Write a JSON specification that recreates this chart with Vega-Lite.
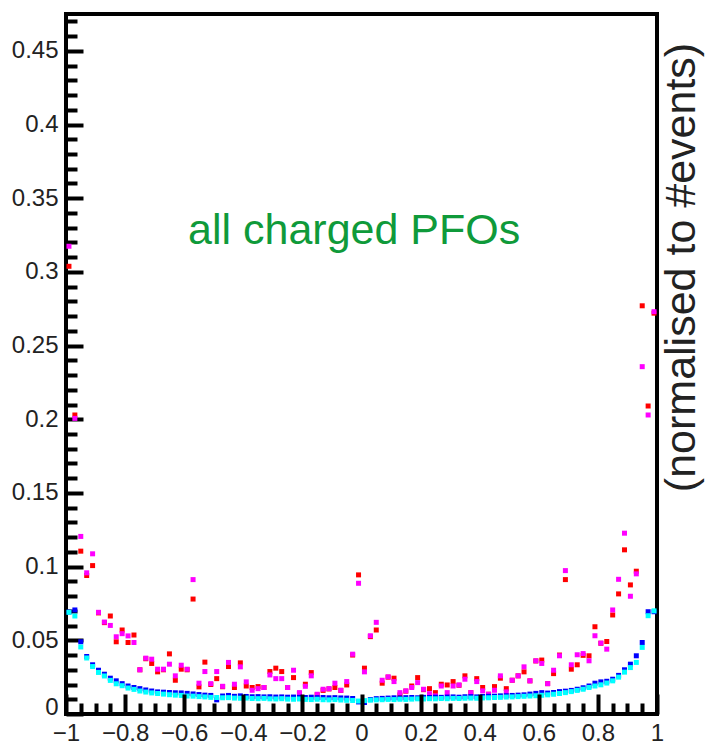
{
  "$schema": "https://vega.github.io/schema/vega-lite/v6.json",
  "autosize": "none",
  "width": 591,
  "height": 700,
  "padding": {"left": 66, "top": 14, "right": 48, "bottom": 27},
  "background": "white",
  "config": {
    "font": "Liberation Sans",
    "view": {"stroke": "#000", "strokeWidth": 4}
  },
  "datasets": {
    "pts": [
{"x":-0.99,"y":0.3038,"s":"r"},{"x":-0.97,"y":0.2029,"s":"r"},{"x":-0.95,"y":0.1105,"s":"r"},{"x":-0.93,"y":0.094,"s":"r"},{"x":-0.91,"y":0.1007,"s":"r"},{"x":-0.89,"y":0.0686,"s":"r"},{"x":-0.87,"y":0.062,"s":"r"},{"x":-0.85,"y":0.0665,"s":"r"},{"x":-0.83,"y":0.049,"s":"r"},{"x":-0.81,"y":0.057,"s":"r"},
{"x":-0.79,"y":0.0485,"s":"r"},{"x":-0.77,"y":0.0536,"s":"r"},{"x":-0.75,"y":0.030,"s":"r"},{"x":-0.73,"y":0.0375,"s":"r"},{"x":-0.71,"y":0.0343,"s":"r"},{"x":-0.69,"y":0.0286,"s":"r"},{"x":-0.67,"y":0.030,"s":"r"},{"x":-0.65,"y":0.0408,"s":"r"},{"x":-0.63,"y":0.0229,"s":"r"},{"x":-0.61,"y":0.0304,"s":"r"},
{"x":-0.59,"y":0.030,"s":"r"},{"x":-0.57,"y":0.078,"s":"r"},{"x":-0.55,"y":0.0184,"s":"r"},{"x":-0.53,"y":0.0352,"s":"r"},{"x":-0.51,"y":0.020,"s":"r"},{"x":-0.49,"y":0.024,"s":"r"},{"x":-0.47,"y":0.0185,"s":"r"},{"x":-0.45,"y":0.0322,"s":"r"},{"x":-0.43,"y":0.018,"s":"r"},{"x":-0.41,"y":0.0347,"s":"r"},
{"x":-0.39,"y":0.019,"s":"r"},{"x":-0.37,"y":0.018,"s":"r"},{"x":-0.35,"y":0.0186,"s":"r"},{"x":-0.33,"y":0.018,"s":"r"},{"x":-0.31,"y":0.0288,"s":"r"},{"x":-0.29,"y":0.0311,"s":"r"},{"x":-0.27,"y":0.0288,"s":"r"},{"x":-0.25,"y":0.018,"s":"r"},{"x":-0.23,"y":0.0247,"s":"r"},{"x":-0.21,"y":0.014,"s":"r"},
{"x":-0.19,"y":0.0202,"s":"r"},{"x":-0.17,"y":0.0281,"s":"r"},{"x":-0.15,"y":0.013,"s":"r"},{"x":-0.13,"y":0.016,"s":"r"},{"x":-0.11,"y":0.017,"s":"r"},{"x":-0.09,"y":0.018,"s":"r"},{"x":-0.07,"y":0.016,"s":"r"},{"x":-0.05,"y":0.0197,"s":"r"},{"x":-0.03,"y":0.040,"s":"r"},{"x":-0.01,"y":0.0944,"s":"r"},
{"x":0.01,"y":0.0311,"s":"r"},{"x":0.03,"y":0.0525,"s":"r"},{"x":0.05,"y":0.057,"s":"r"},{"x":0.07,"y":0.0209,"s":"r"},{"x":0.09,"y":0.025,"s":"r"},{"x":0.11,"y":0.0243,"s":"r"},{"x":0.13,"y":0.0129,"s":"r"},{"x":0.15,"y":0.0155,"s":"r"},{"x":0.17,"y":0.019,"s":"r"},{"x":0.19,"y":0.0247,"s":"r"},
{"x":0.21,"y":0.0165,"s":"r"},{"x":0.23,"y":0.0172,"s":"r"},{"x":0.25,"y":0.0145,"s":"r"},{"x":0.27,"y":0.0202,"s":"r"},{"x":0.29,"y":0.0197,"s":"r"},{"x":0.31,"y":0.022,"s":"r"},{"x":0.33,"y":0.0195,"s":"r"},{"x":0.35,"y":0.0259,"s":"r"},{"x":0.37,"y":0.0145,"s":"r"},{"x":0.39,"y":0.024,"s":"r"},
{"x":0.41,"y":0.018,"s":"r"},{"x":0.43,"y":0.0134,"s":"r"},{"x":0.45,"y":0.0186,"s":"r"},{"x":0.47,"y":0.0243,"s":"r"},{"x":0.49,"y":0.0172,"s":"r"},{"x":0.51,"y":0.0229,"s":"r"},{"x":0.53,"y":0.0259,"s":"r"},{"x":0.55,"y":0.0286,"s":"r"},{"x":0.57,"y":0.0225,"s":"r"},{"x":0.59,"y":0.036,"s":"r"},
{"x":0.61,"y":0.0366,"s":"r"},{"x":0.63,"y":0.0206,"s":"r"},{"x":0.65,"y":0.0274,"s":"r"},{"x":0.67,"y":0.040,"s":"r"},{"x":0.69,"y":0.0912,"s":"r"},{"x":0.71,"y":0.0304,"s":"r"},{"x":0.73,"y":0.0334,"s":"r"},{"x":0.75,"y":0.0398,"s":"r"},{"x":0.77,"y":0.0395,"s":"r"},{"x":0.79,"y":0.0592,"s":"r"},
{"x":0.81,"y":0.048,"s":"r"},{"x":0.83,"y":0.0492,"s":"r"},{"x":0.85,"y":0.0672,"s":"r"},{"x":0.87,"y":0.0815,"s":"r"},{"x":0.89,"y":0.1114,"s":"r"},{"x":0.91,"y":0.0876,"s":"r"},{"x":0.93,"y":0.0969,"s":"r"},{"x":0.95,"y":0.277,"s":"r"},{"x":0.97,"y":0.209,"s":"r"},{"x":0.99,"y":0.272,"s":"r"},
{"x":-0.99,"y":0.3174,"s":"m"},{"x":-0.97,"y":0.2006,"s":"m"},{"x":-0.95,"y":0.1205,"s":"m"},{"x":-0.93,"y":0.0958,"s":"m"},{"x":-0.91,"y":0.1087,"s":"m"},{"x":-0.89,"y":0.069,"s":"m"},{"x":-0.87,"y":0.0624,"s":"m"},{"x":-0.85,"y":0.0601,"s":"m"},{"x":-0.83,"y":0.0524,"s":"m"},{"x":-0.81,"y":0.0545,"s":"m"},
{"x":-0.79,"y":0.053,"s":"m"},{"x":-0.77,"y":0.0485,"s":"m"},{"x":-0.75,"y":0.030,"s":"m"},{"x":-0.73,"y":0.0379,"s":"m"},{"x":-0.71,"y":0.0372,"s":"m"},{"x":-0.69,"y":0.0304,"s":"m"},{"x":-0.67,"y":0.0304,"s":"m"},{"x":-0.65,"y":0.0338,"s":"m"},{"x":-0.63,"y":0.0259,"s":"m"},{"x":-0.61,"y":0.0331,"s":"m"},
{"x":-0.59,"y":0.0304,"s":"m"},{"x":-0.57,"y":0.0912,"s":"m"},{"x":-0.55,"y":0.0209,"s":"m"},{"x":-0.53,"y":0.0288,"s":"m"},{"x":-0.51,"y":0.0206,"s":"m"},{"x":-0.49,"y":0.0288,"s":"m"},{"x":-0.47,"y":0.0188,"s":"m"},{"x":-0.45,"y":0.035,"s":"m"},{"x":-0.43,"y":0.0202,"s":"m"},{"x":-0.41,"y":0.032,"s":"m"},
{"x":-0.39,"y":0.0218,"s":"m"},{"x":-0.37,"y":0.0161,"s":"m"},{"x":-0.35,"y":0.0172,"s":"m"},{"x":-0.33,"y":0.018,"s":"m"},{"x":-0.31,"y":0.0265,"s":"m"},{"x":-0.29,"y":0.024,"s":"m"},{"x":-0.27,"y":0.024,"s":"m"},{"x":-0.25,"y":0.018,"s":"m"},{"x":-0.23,"y":0.0297,"s":"m"},{"x":-0.21,"y":0.0145,"s":"m"},
{"x":-0.19,"y":0.0188,"s":"m"},{"x":-0.17,"y":0.0259,"s":"m"},{"x":-0.15,"y":0.0134,"s":"m"},{"x":-0.13,"y":0.0168,"s":"m"},{"x":-0.11,"y":0.0172,"s":"m"},{"x":-0.09,"y":0.0209,"s":"m"},{"x":-0.07,"y":0.0161,"s":"m"},{"x":-0.05,"y":0.022,"s":"m"},{"x":-0.03,"y":0.0406,"s":"m"},{"x":-0.01,"y":0.0887,"s":"m"},
{"x":0.01,"y":0.0286,"s":"m"},{"x":0.03,"y":0.0531,"s":"m"},{"x":0.05,"y":0.0622,"s":"m"},{"x":0.07,"y":0.0229,"s":"m"},{"x":0.09,"y":0.0252,"s":"m"},{"x":0.11,"y":0.022,"s":"m"},{"x":0.13,"y":0.0145,"s":"m"},{"x":0.15,"y":0.0157,"s":"m"},{"x":0.17,"y":0.018,"s":"m"},{"x":0.19,"y":0.0213,"s":"m"},
{"x":0.21,"y":0.0168,"s":"m"},{"x":0.23,"y":0.0138,"s":"m"},{"x":0.25,"y":0.0123,"s":"m"},{"x":0.27,"y":0.019,"s":"m"},{"x":0.29,"y":0.0145,"s":"m"},{"x":0.31,"y":0.019,"s":"m"},{"x":0.33,"y":0.0197,"s":"m"},{"x":0.35,"y":0.0236,"s":"m"},{"x":0.37,"y":0.0145,"s":"m"},{"x":0.39,"y":0.022,"s":"m"},
{"x":0.41,"y":0.0157,"s":"m"},{"x":0.43,"y":0.0134,"s":"m"},{"x":0.45,"y":0.0161,"s":"m"},{"x":0.47,"y":0.0259,"s":"m"},{"x":0.49,"y":0.015,"s":"m"},{"x":0.51,"y":0.0229,"s":"m"},{"x":0.53,"y":0.0259,"s":"m"},{"x":0.55,"y":0.032,"s":"m"},{"x":0.57,"y":0.0225,"s":"m"},{"x":0.59,"y":0.0361,"s":"m"},
{"x":0.61,"y":0.0343,"s":"m"},{"x":0.63,"y":0.0206,"s":"m"},{"x":0.65,"y":0.0297,"s":"m"},{"x":0.67,"y":0.0395,"s":"m"},{"x":0.69,"y":0.0973,"s":"m"},{"x":0.71,"y":0.0334,"s":"m"},{"x":0.73,"y":0.0402,"s":"m"},{"x":0.75,"y":0.041,"s":"m"},{"x":0.77,"y":0.0361,"s":"m"},{"x":0.79,"y":0.0531,"s":"m"},
{"x":0.81,"y":0.0481,"s":"m"},{"x":0.83,"y":0.044,"s":"m"},{"x":0.85,"y":0.0706,"s":"m"},{"x":0.87,"y":0.0914,"s":"m"},{"x":0.89,"y":0.1227,"s":"m"},{"x":0.91,"y":0.0799,"s":"m"},{"x":0.93,"y":0.0951,"s":"m"},{"x":0.95,"y":0.2357,"s":"m"},{"x":0.97,"y":0.2029,"s":"m"},{"x":0.99,"y":0.273,"s":"m"},
{"x":-0.99,"y":0.0692,"s":"b"},{"x":-0.97,"y":0.0706,"s":"b"},{"x":-0.95,"y":0.049,"s":"b"},{"x":-0.93,"y":0.039,"s":"b"},{"x":-0.91,"y":0.0334,"s":"b"},{"x":-0.89,"y":0.0297,"s":"b"},{"x":-0.87,"y":0.027,"s":"b"},{"x":-0.85,"y":0.0243,"s":"b"},{"x":-0.83,"y":0.0225,"s":"b"},{"x":-0.81,"y":0.0206,"s":"b"},
{"x":-0.79,"y":0.019,"s":"b"},{"x":-0.77,"y":0.018,"s":"b"},{"x":-0.75,"y":0.0172,"s":"b"},{"x":-0.73,"y":0.0163,"s":"b"},{"x":-0.71,"y":0.0156,"s":"b"},{"x":-0.69,"y":0.015,"s":"b"},{"x":-0.67,"y":0.0148,"s":"b"},{"x":-0.65,"y":0.0146,"s":"b"},{"x":-0.63,"y":0.0144,"s":"b"},{"x":-0.61,"y":0.0143,"s":"b"},
{"x":-0.59,"y":0.014,"s":"b"},{"x":-0.57,"y":0.0136,"s":"b"},{"x":-0.55,"y":0.0132,"s":"b"},{"x":-0.53,"y":0.0128,"s":"b"},{"x":-0.51,"y":0.0126,"s":"b"},{"x":-0.49,"y":0.0096,"s":"b"},{"x":-0.47,"y":0.0122,"s":"b"},{"x":-0.45,"y":0.0126,"s":"b"},{"x":-0.43,"y":0.012,"s":"b"},{"x":-0.41,"y":0.0123,"s":"b"},
{"x":-0.39,"y":0.0119,"s":"b"},{"x":-0.37,"y":0.0117,"s":"b"},{"x":-0.35,"y":0.0118,"s":"b"},{"x":-0.33,"y":0.0116,"s":"b"},{"x":-0.31,"y":0.0117,"s":"b"},{"x":-0.29,"y":0.0115,"s":"b"},{"x":-0.27,"y":0.0116,"s":"b"},{"x":-0.25,"y":0.0114,"s":"b"},{"x":-0.23,"y":0.0115,"s":"b"},{"x":-0.21,"y":0.0113,"s":"b"},
{"x":-0.19,"y":0.0112,"s":"b"},{"x":-0.17,"y":0.0114,"s":"b"},{"x":-0.15,"y":0.0111,"s":"b"},{"x":-0.13,"y":0.0112,"s":"b"},{"x":-0.11,"y":0.011,"s":"b"},{"x":-0.09,"y":0.0111,"s":"b"},{"x":-0.07,"y":0.0109,"s":"b"},{"x":-0.05,"y":0.0108,"s":"b"},{"x":-0.03,"y":0.0105,"s":"b"},{"x":-0.01,"y":0.0082,"s":"b"},
{"x":0.01,"y":0.0078,"s":"b"},{"x":0.03,"y":0.0098,"s":"b"},{"x":0.05,"y":0.0104,"s":"b"},{"x":0.07,"y":0.0106,"s":"b"},{"x":0.09,"y":0.0108,"s":"b"},{"x":0.11,"y":0.011,"s":"b"},{"x":0.13,"y":0.0109,"s":"b"},{"x":0.15,"y":0.0111,"s":"b"},{"x":0.17,"y":0.0112,"s":"b"},{"x":0.19,"y":0.011,"s":"b"},
{"x":0.21,"y":0.0113,"s":"b"},{"x":0.23,"y":0.0112,"s":"b"},{"x":0.25,"y":0.0114,"s":"b"},{"x":0.27,"y":0.0113,"s":"b"},{"x":0.29,"y":0.0115,"s":"b"},{"x":0.31,"y":0.0116,"s":"b"},{"x":0.33,"y":0.0114,"s":"b"},{"x":0.35,"y":0.0117,"s":"b"},{"x":0.37,"y":0.0118,"s":"b"},{"x":0.39,"y":0.0116,"s":"b"},
{"x":0.41,"y":0.0119,"s":"b"},{"x":0.43,"y":0.012,"s":"b"},{"x":0.45,"y":0.0121,"s":"b"},{"x":0.47,"y":0.0123,"s":"b"},{"x":0.49,"y":0.0124,"s":"b"},{"x":0.51,"y":0.0126,"s":"b"},{"x":0.53,"y":0.0128,"s":"b"},{"x":0.55,"y":0.013,"s":"b"},{"x":0.57,"y":0.0135,"s":"b"},{"x":0.59,"y":0.014,"s":"b"},
{"x":0.61,"y":0.0145,"s":"b"},{"x":0.63,"y":0.0142,"s":"b"},{"x":0.65,"y":0.0146,"s":"b"},{"x":0.67,"y":0.0152,"s":"b"},{"x":0.69,"y":0.0155,"s":"b"},{"x":0.71,"y":0.016,"s":"b"},{"x":0.73,"y":0.0168,"s":"b"},{"x":0.75,"y":0.0178,"s":"b"},{"x":0.77,"y":0.019,"s":"b"},{"x":0.79,"y":0.0209,"s":"b"},
{"x":0.81,"y":0.0218,"s":"b"},{"x":0.83,"y":0.0222,"s":"b"},{"x":0.85,"y":0.0236,"s":"b"},{"x":0.87,"y":0.0262,"s":"b"},{"x":0.89,"y":0.03,"s":"b"},{"x":0.91,"y":0.0338,"s":"b"},{"x":0.93,"y":0.0395,"s":"b"},{"x":0.95,"y":0.0485,"s":"b"},{"x":0.97,"y":0.0694,"s":"b"},{"x":0.99,"y":0.0694,"s":"b"},
{"x":-0.99,"y":0.069,"s":"c"},{"x":-0.97,"y":0.0665,"s":"c"},{"x":-0.95,"y":0.0455,"s":"c"},{"x":-0.93,"y":0.038,"s":"c"},{"x":-0.91,"y":0.0322,"s":"c"},{"x":-0.89,"y":0.0282,"s":"c"},{"x":-0.87,"y":0.0258,"s":"c"},{"x":-0.85,"y":0.0228,"s":"c"},{"x":-0.83,"y":0.0205,"s":"c"},{"x":-0.81,"y":0.0192,"s":"c"},
{"x":-0.79,"y":0.0176,"s":"c"},{"x":-0.77,"y":0.0167,"s":"c"},{"x":-0.75,"y":0.0156,"s":"c"},{"x":-0.73,"y":0.0149,"s":"c"},{"x":-0.71,"y":0.0143,"s":"c"},{"x":-0.69,"y":0.0139,"s":"c"},{"x":-0.67,"y":0.0135,"s":"c"},{"x":-0.65,"y":0.0131,"s":"c"},{"x":-0.63,"y":0.0128,"s":"c"},{"x":-0.61,"y":0.0126,"s":"c"},
{"x":-0.59,"y":0.0122,"s":"c"},{"x":-0.57,"y":0.0121,"s":"c"},{"x":-0.55,"y":0.0118,"s":"c"},{"x":-0.53,"y":0.0116,"s":"c"},{"x":-0.51,"y":0.0113,"s":"c"},{"x":-0.49,"y":0.0112,"s":"c"},{"x":-0.47,"y":0.011,"s":"c"},{"x":-0.45,"y":0.0111,"s":"c"},{"x":-0.43,"y":0.0108,"s":"c"},{"x":-0.41,"y":0.0107,"s":"c"},
{"x":-0.39,"y":0.0108,"s":"c"},{"x":-0.37,"y":0.0105,"s":"c"},{"x":-0.35,"y":0.0104,"s":"c"},{"x":-0.33,"y":0.0106,"s":"c"},{"x":-0.31,"y":0.0103,"s":"c"},{"x":-0.29,"y":0.0102,"s":"c"},{"x":-0.27,"y":0.0104,"s":"c"},{"x":-0.25,"y":0.0101,"s":"c"},{"x":-0.23,"y":0.01,"s":"c"},{"x":-0.21,"y":0.0102,"s":"c"},
{"x":-0.19,"y":0.0099,"s":"c"},{"x":-0.17,"y":0.0098,"s":"c"},{"x":-0.15,"y":0.01,"s":"c"},{"x":-0.13,"y":0.0097,"s":"c"},{"x":-0.11,"y":0.0096,"s":"c"},{"x":-0.09,"y":0.0098,"s":"c"},{"x":-0.07,"y":0.0095,"s":"c"},{"x":-0.05,"y":0.0093,"s":"c"},{"x":-0.03,"y":0.0092,"s":"c"},{"x":-0.01,"y":0.0088,"s":"c"},
{"x":0.01,"y":0.0091,"s":"c"},{"x":0.03,"y":0.0094,"s":"c"},{"x":0.05,"y":0.0096,"s":"c"},{"x":0.07,"y":0.0097,"s":"c"},{"x":0.09,"y":0.0099,"s":"c"},{"x":0.11,"y":0.0098,"s":"c"},{"x":0.13,"y":0.01,"s":"c"},{"x":0.15,"y":0.0099,"s":"c"},{"x":0.17,"y":0.0101,"s":"c"},{"x":0.19,"y":0.0103,"s":"c"},
{"x":0.21,"y":0.0102,"s":"c"},{"x":0.23,"y":0.0104,"s":"c"},{"x":0.25,"y":0.0103,"s":"c"},{"x":0.27,"y":0.0105,"s":"c"},{"x":0.29,"y":0.0104,"s":"c"},{"x":0.31,"y":0.0106,"s":"c"},{"x":0.33,"y":0.0105,"s":"c"},{"x":0.35,"y":0.0107,"s":"c"},{"x":0.37,"y":0.0108,"s":"c"},{"x":0.39,"y":0.0107,"s":"c"},
{"x":0.41,"y":0.0109,"s":"c"},{"x":0.43,"y":0.011,"s":"c"},{"x":0.45,"y":0.0112,"s":"c"},{"x":0.47,"y":0.0113,"s":"c"},{"x":0.49,"y":0.0115,"s":"c"},{"x":0.51,"y":0.0116,"s":"c"},{"x":0.53,"y":0.0118,"s":"c"},{"x":0.55,"y":0.012,"s":"c"},{"x":0.57,"y":0.0122,"s":"c"},{"x":0.59,"y":0.0124,"s":"c"},
{"x":0.61,"y":0.0127,"s":"c"},{"x":0.63,"y":0.013,"s":"c"},{"x":0.65,"y":0.0134,"s":"c"},{"x":0.67,"y":0.0139,"s":"c"},{"x":0.69,"y":0.0145,"s":"c"},{"x":0.71,"y":0.0152,"s":"c"},{"x":0.73,"y":0.016,"s":"c"},{"x":0.75,"y":0.0168,"s":"c"},{"x":0.77,"y":0.018,"s":"c"},{"x":0.79,"y":0.019,"s":"c"},
{"x":0.81,"y":0.0198,"s":"c"},{"x":0.83,"y":0.021,"s":"c"},{"x":0.85,"y":0.0225,"s":"c"},{"x":0.87,"y":0.025,"s":"c"},{"x":0.89,"y":0.0284,"s":"c"},{"x":0.91,"y":0.0315,"s":"c"},{"x":0.93,"y":0.035,"s":"c"},{"x":0.95,"y":0.0452,"s":"c"},{"x":0.97,"y":0.0667,"s":"c"},{"x":0.99,"y":0.07,"s":"c"}
    ],
    "labels": [
      {"x": -0.025, "y": 0.319, "t": "all charged PFOs", "k": "title"},
      {"x": 1.1286, "y": 0.303, "t": "(normalised to #events)", "k": "ytitle"}
    ]
  },
  "layer": [
    {
      "data": {"name": "pts"},
      "mark": {"type": "point", "shape": "square", "filled": true, "size": 25, "opacity": 1, "strokeWidth": 0},
      "encoding": {
        "x": {
          "field": "x", "type": "quantitative",
          "scale": {"domain": [-1, 1], "nice": false, "zero": false},
          "axis": {
            "title": null, "domain": false, "ticks": false, "tickCount": 200, "zindex": 1,
            "grid": true, "gridColor": "#000", "gridWidth": 4, "gridOpacity": 1,
            "gridDash": {"condition": {"test": "abs(round(datum.value*100)) % 20 == 0", "value": [0, 680, 20, 2000]}, "value": [0, 689, 11, 2000]},
            "values": [-1,-0.95,-0.9,-0.85,-0.8,-0.75,-0.7,-0.65,-0.6,-0.55,-0.5,-0.45,-0.4,-0.35,-0.3,-0.25,-0.2,-0.15,-0.1,-0.05,0,0.05,0.1,0.15,0.2,0.25,0.3,0.35,0.4,0.45,0.5,0.55,0.6,0.65,0.7,0.75,0.8,0.85,0.9,0.95,1],
            "labelExpr": "abs(round(datum.value*100)) % 20 == 0 ? format(datum.value, '~g') : ''",
            "labelPadding": 7, "labelFontSize": 24, "labelColor": "#222", "labelFont": "Liberation Sans",
            "labelOverlap": false, "labelFlush": false, "labelBound": false
          }
        },
        "y": {
          "field": "y", "type": "quantitative",
          "scale": {"domain": [0, 0.475], "nice": false, "zero": false},
          "axis": {
            "title": null, "domain": false, "grid": false, "tickCount": 200,
            "values": [0,0.01,0.02,0.03,0.04,0.05,0.06,0.07,0.08,0.09,0.1,0.11,0.12,0.13,0.14,0.15,0.16,0.17,0.18,0.19,0.2,0.21,0.22,0.23,0.24,0.25,0.26,0.27,0.28,0.29,0.3,0.31,0.32,0.33,0.34,0.35,0.36,0.37,0.38,0.39,0.4,0.41,0.42,0.43,0.44,0.45,0.46,0.47],
            "labelExpr": "round(datum.value*100) % 5 == 0 ? format(datum.value, '~g') : ''",
            "tickSize": -17,
            "tickDash": {"condition": {"test": "round(datum.value*100) % 5 == 0", "value": [17, 0]}, "value": [11, 40]},
            "tickWidth": 4, "tickColor": "#000",
            "labelPadding": 25, "labelFontSize": 24, "labelColor": "#222", "labelFont": "Liberation Sans",
            "labelBaseline": {"condition": {"test": "datum.value == 0", "value": "alphabetic"}, "value": "middle"},
            "labelOverlap": false, "labelFlush": false, "labelBound": false
          }
        },
        "color": {
          "field": "s", "type": "nominal", "legend": null,
          "scale": {"domain": ["r", "m", "b", "c"], "range": ["#ff0000", "#ff00ff", "#0000ff", "#00ffff"]}
        }
      }
    },
    {
      "data": {"name": "labels"},
      "transform": [{"filter": "datum.k == 'title'"}],
      "mark": {"type": "text", "font": "Liberation Sans", "fontSize": 43, "color": "#0f9a3a", "align": "center", "baseline": "alphabetic"},
      "encoding": {
        "x": {"field": "x", "type": "quantitative"},
        "y": {"field": "y", "type": "quantitative"},
        "text": {"field": "t"}
      }
    },
    {
      "data": {"name": "labels"},
      "transform": [{"filter": "datum.k == 'ytitle'"}],
      "mark": {"type": "text", "font": "Liberation Sans", "fontSize": 43, "color": "#222", "align": "center", "baseline": "alphabetic", "angle": 270},
      "encoding": {
        "x": {"field": "x", "type": "quantitative"},
        "y": {"field": "y", "type": "quantitative"},
        "text": {"field": "t"}
      }
    }
  ]
}
